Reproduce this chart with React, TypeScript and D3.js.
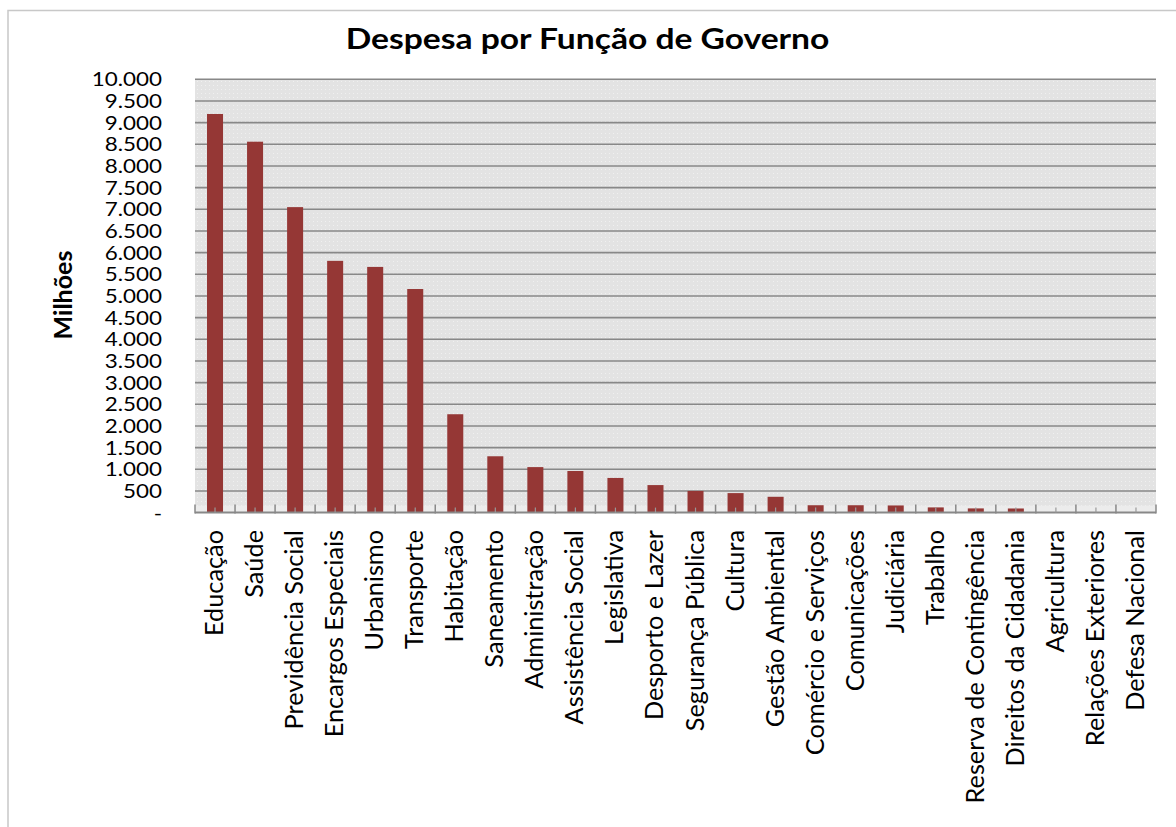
import React from "react";
import * as d3 from "d3";

const categories = [
  "Educação", "Saúde", "Previdência Social", "Encargos Especiais", "Urbanismo",
  "Transporte", "Habitação", "Saneamento", "Administração", "Assistência Social",
  "Legislativa", "Desporto e Lazer", "Segurança Pública", "Cultura", "Gestão Ambiental",
  "Comércio e Serviços", "Comunicações", "Judiciária", "Trabalho", "Reserva de Contingência",
  "Direitos da Cidadania", "Agricultura", "Relações Exteriores", "Defesa Nacional",
];
const values = [
  9200, 8560, 7050, 5810, 5670,
  5160, 2270, 1300, 1050, 960,
  800, 635, 500, 450, 365,
  170, 170, 165, 120, 97,
  95, 3, 2, 1,
];
const yTicks = [0, 500, 1000, 1500, 2000, 2500, 3000, 3500, 4000, 4500, 5000, 5500, 6000, 6500, 7000, 7500, 8000, 8500, 9000, 9500, 10000];
const title = "Despesa por Função de Governo";
const yTitle = "Milhões";

const W = 1176;
const H = 827;
const left = 195, right = 1156, top = 79.3, bottom = 512.6;

const fmt = (v: number) => (v === 0 ? "-" : d3.format(",")(v).replace(/,/g, "."));

export default function App() {
  const x = d3.scaleBand<string>().domain(categories).range([left, right]).paddingInner(0.6).paddingOuter(0.3);
  const xb = d3.scaleBand<string>().domain(categories).range([left, right]);
  const y = d3.scaleLinear().domain([0, 10000]).range([bottom, top]);
  const font = "Lato, 'Open Sans', sans-serif";
  return (
    <svg width={W} height={H} style={{ position: "absolute", left: 0, top: 0 }}>
      <defs>
        <pattern id="dots" width="4" height="4" patternUnits="userSpaceOnUse">
          <rect width="4" height="4" fill="#e3e3e3" />
          <rect x="1" y="1" width="1" height="1" fill="#f0f0f0" />
        </pattern>
      </defs>
      <rect x={0} y={0} width={W} height={H} fill="#fff" />
      <rect x={8} y={10.5} width={W + 10} height={H + 10} fill="#fff" stroke="#c8c8c8" strokeWidth={1.5} />
      <text transform="translate(587.5,48.5) scale(1.2,1)" textAnchor="middle" fontFamily={font} fontWeight="bold" fontSize={28} fill="#000">{title}</text>
      <rect x={left} y={top} width={right - left} height={bottom - top} fill="url(#dots)" />
      <rect x={left} y={bottom - 7} width={right - left} height={7} fill="#ececec" />
      {yTicks.filter((t) => t > 0).map((t) => (
        <line key={t} x1={left} x2={right} y1={y(t)} y2={y(t)} stroke="#888" strokeWidth={1.6} />
      ))}
      {categories.map((c, i) => (
        <rect key={c} x={x(c)!} width={x.bandwidth()} y={y(values[i])} height={bottom - y(values[i])} fill="#953735" />
      ))}
      <line x1={left} x2={right} y1={bottom} y2={bottom} stroke="#888" strokeWidth={2} />
      {categories.map((c) => (
        <line key={"mt" + c} x1={xb(c)! + xb.bandwidth() / 2} x2={xb(c)! + xb.bandwidth() / 2} y1={bottom - 5} y2={bottom} stroke="#999" strokeWidth={1.2} />
      ))}
      {[...categories.map((c) => xb(c)!), right].map((bx, i) => (
        <line key={"bt" + i} x1={bx} x2={bx} y1={bottom - 8} y2={bottom + 1} stroke="#888" strokeWidth={1.5} />
      ))}
      {yTicks.map((t) => (
        <text key={"yl" + t} transform={`translate(162,${y(t) + 7}) scale(1.18,1)`} textAnchor="end" fontFamily={font} fontSize={19} fill="#000">{fmt(t)}</text>
      ))}
      <text transform={`translate(72,${295}) rotate(-90)`} textAnchor="middle" fontFamily={font} fontWeight="bold" fontSize={25} fill="#000">{yTitle}</text>
      {categories.map((c) => (
        <text key={"xl" + c} transform={`translate(${xb(c)! + xb.bandwidth() / 2 + 8},${530}) rotate(-90)`} textAnchor="end" fontFamily={font} fontSize={25.3} fill="#000">{c}</text>
      ))}
    </svg>
  );
}
